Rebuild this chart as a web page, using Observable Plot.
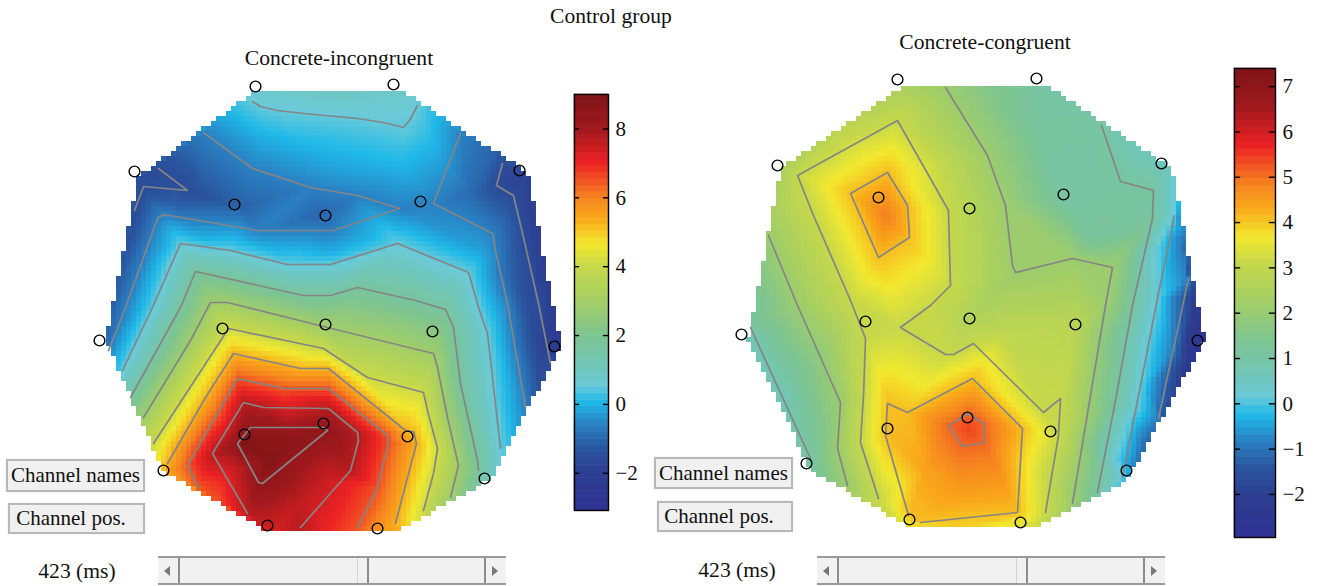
<!DOCTYPE html>
<html><head><meta charset="utf-8">
<script src="https://cdn.jsdelivr.net/npm/d3@7"></script>
<script src="https://cdn.jsdelivr.net/npm/@observablehq/plot@0.6"></script>
<style>
html,body{margin:0;background:#fff;width:1318px;height:586px;overflow:hidden}
#root{position:relative;width:1318px;height:586px;font-family:"Liberation Serif",serif;color:#111}
#root>*{position:absolute}
svg{background:transparent!important;display:block}
.t{font-size:21.6px;white-space:nowrap;transform:translateX(-50%)}
.btn{box-sizing:border-box;background:#f0f0f0;border:2px solid #b8b8b8;box-shadow:0 0 1px #ccc;font-size:21px;display:flex;align-items:center;justify-content:center;white-space:nowrap}
.sb{box-sizing:border-box;background:#f0f1f0;border-top:2px solid #9a9a9a;border-bottom:2px solid #9a9a9a}
.sb i{position:absolute;top:0;bottom:0;display:block;border-left:2px solid #8c8c8c}
.ar{position:absolute;top:8px;width:0;height:0;border-top:5px solid transparent;border-bottom:5px solid transparent}
</style></head><body><div id="root"></div>
<script>
// Shared colour map, positions as a fraction of each colour bar
const rampStops=[0,.092,.148,.204,.261,.301,.333,.425,.509,.585,.638,.702,.754,.834,.918,1];
const rampColors=["#2e3192","#2d3e91","#2a569f","#2a7fc1","#1fb9e8","#6ccbd8","#6dc6c0","#7fc58f","#a6cf63","#c6d84a","#f2e92e","#f9a81a","#f58220","#ed2224","#a0191d","#7f1416"];

// Left map: "Concrete-incongruent"
const leftRange=[-3.08,9];
const leftTicks=[-2,0,2,4,6,8];
const leftChannels=[[255,86],[393,84],[134,171],[519,170],[234,204],[325,215],[420,201],[99,340],[222,328],[325,324],[432,331],[554,346],[244,434],[323,423],[407,436],[163,470],[484,478],[267,525],[377,528]];
const leftOutline=[[253,90],[403,90],[527,172],[560,345],[490,478],[393,532],[270,532],[162,470],[105,340],[138,175]];
const leftContours=[
 [.5,[[252,101],[260,106],[277,110],[303,113],[357,118],[383,122],[403,127],[409,120],[417,105]]],
 [-.6,[[203,132],[237,157],[252,168],[310,187],[357,195],[399,208],[333,230],[257,230],[163,214],[157,218],[143,257],[125,307],[120,320],[108,350]]],
 [-1.6,[[158,168],[187,190],[143,186],[134,210]]],
 [-.6,[[460,133],[433,203],[492,233],[495,250],[507,303],[525,407]]],
 [-1.6,[[502,163],[496,185],[513,195],[523,237],[538,303],[550,363]]],
 [.5,[[122,370],[152,307],[180,243],[230,250],[287,264],[330,264],[397,243],[468,272],[478,307],[487,333],[500,448]]],
 [1.7,[[130,397],[180,307],[195,271],[303,295],[330,295],[357,287],[415,300],[445,309],[453,327],[460,383],[477,460],[478,470]]],
 [2.9,[[143,417],[190,340],[210,302],[227,302],[323,326],[433,353],[437,367],[447,417],[458,465],[450,497]]],
 [4.1,[[153,443],[228,328],[323,348],[367,377],[423,392],[427,410],[437,448],[433,473],[423,510]]],
 [5.3,[[167,463],[205,397],[233,353],[300,368],[328,368],[405,430],[413,431],[416,443],[407,477],[395,523]]],
 [6.5,[[198,487],[187,465],[237,378],[283,388],[328,388],[387,435],[388,442],[377,487],[357,527]]],
 [7.7,[[247,513],[212,453],[243,402],[263,407],[328,408],[357,432],[358,440],[350,470],[300,527]]],
 [8.4,[[250,427],[323,427],[327,430],[262,483],[258,482],[237,443],[250,427]]]
];
const leftSpots=[[253,90,.7],[403,90,.8],[527,172,-1.8],[560,345,-2.2],[490,478,1],[393,532,5.6],[270,532,7.3],[162,470,5.2],[105,340,-1],[138,175,-1.5],
 [330,90,.9],[170,155,-1.3],[465,131,-.5],[495,152,-1.1],[544,260,-2],[555,320,-2.1],[535,400,-1.3],[515,440,0],[440,505,3],[415,520,4.5],[330,532,6.9],[360,532,6.2],[215,500,6.5],[122,260,-1.3],[112,305,-1.1],[120,380,.6],[140,420,2.9],
 [245,440,9],[290,440,8.6],[270,460,8.8],[300,500,7.6],[230,470,7.3],[330,480,7.4],[320,215,-1.05],[240,205,-1.1],[200,195,-1.4],[180,205,-1.1],[310,148,0],[400,160,.1],[260,140,-.1],[350,172,-.2],[435,145,0],[470,195,-.95],[415,215,-.45],[330,250,-.1],[200,235,-.1],[480,250,-.2],[510,280,-1.1],[525,300,-1.5],[530,210,-1.9],[515,180,-1.8],[540,350,-1.8]];

// Right map: "Concrete-congruent"
const rightRange=[-2.95,7.4];
const rightTicks=[-2,-1,0,1,2,3,4,5,6,7];
const rightChannels=[[897,79],[1036,78],[777,165],[1161,163],[878,197],[969,208],[1063,194],[741,334],[865,321],[969,318],[1075,324],[1197,340],[887,428],[967,417],[1050,431],[806,463],[1126,470],[909,519],[1020,522]];
const rightOutline=[[903,84],[1046,84],[1171,168],[1204,340],[1125,482],[1037,526],[907,526],[810,470],[747,340],[780,168]];
const rightContours=[
 [3.1,[[878,498],[860,442],[863,395],[865,338],[850,300],[813,215],[797,175],[897,120],[948,210],[950,285],[930,305],[900,327],[945,354],[953,354],[973,343],[1043,412],[1060,398],[1058,435],[1045,512]]],
 [4.1,[[850,193],[887,172],[907,205],[909,237],[878,257],[850,193]]],
 [4.1,[[920,522],[1017,512],[1022,428],[972,378],[907,412],[887,403],[885,435],[908,515]]],
 [5.1,[[948,425],[968,413],[983,423],[984,442],[962,446],[948,425]]],
 [2.1,[[945,87],[987,155],[1005,205],[1012,265],[1015,272],[1072,258],[1112,267],[1105,305],[1072,503]]],
 [2.1,[[768,235],[797,305],[840,402],[837,448],[847,485]]],
 [1.1,[[1101,125],[1120,181],[1153,190],[1152,218],[1132,305],[1115,400],[1097,492]]],
 [1.1,[[750,327],[810,458]]],
 [.1,[[1174,215],[1157,298],[1140,385],[1122,477]]],
 [-.9,[[1188,278],[1173,348],[1158,418]]]
];
const rightSpots=[[903,84,2.4],[1046,84,1],[1171,168,.4],[1204,340,-2.7],[1125,482,-.4],[1037,526,3.2],[907,526,3.6],[810,470,1.1],[747,340,.7],[780,168,2.4],
 [975,84,1.7],[840,125,2.8],[1108,125,.9],[1140,147,.6],[1180,238,-.9],[1193,298,-2],[1186,348,-2.2],[1190,365,-2.5],[1167,418,-1.7],[1145,445,-1.2],[1135,465,-.9],[970,526,3.9],[860,500,2.6],[778,400,.6],[760,290,1.4],[765,230,2.1],
 [885,215,4.9],[968,428,5.4],[968,318,2.6],[1075,324,2.8],[1005,330,2.9],[1063,195,1],[1090,240,1.2],[1040,130,1.1],[1140,340,.4],[960,490,4.5],[925,470,4.4],[840,330,2.5],[1050,480,2.9]];

const root=document.getElementById("root");
function place(el,left,top){el.style.left=left+"px";el.style.top=top+"px";root.appendChild(el);return el;}

function colorScale([lo,hi]){return {type:"linear",domain:rampStops.map(t=>lo+t*(hi-lo)),range:rampColors};}

// value at a point: linear between the values, blank off the scalp
function sampler(contours,spots,outline){
  const pts=[...spots,...contours.flatMap(([lev,path])=>path.map(p=>[p[0],p[1],lev]))];
  const del=d3.Delaunay.from(pts,d=>d[0],d=>d[1]),tri=del.triangles;
  return (x,y)=>{
    if(!d3.polygonContains(outline,[x,y]))return NaN;
    for(let i=0;i<tri.length;i+=3){
      const a=pts[tri[i]],b=pts[tri[i+1]],c=pts[tri[i+2]];
      const d=(b[1]-c[1])*(a[0]-c[0])+(c[0]-b[0])*(a[1]-c[1]);
      const u=((b[1]-c[1])*(x-c[0])+(c[0]-b[0])*(y-c[1]))/d;
      const v=((c[1]-a[1])*(x-c[0])+(a[0]-c[0])*(y-c[1]))/d;
      if(u>=-1e-9&&v>=-1e-9&&u+v<=1+1e-9)return u*a[2]+v*b[2]+(1-u-v)*c[2];
    }
    return NaN;
  };
}

function topo({x0,x1,y0,y1,range,contours,spots,outline,channels}){
  const lines=contours.flatMap(([lev,path],id)=>path.map(p=>({x:p[0],y:p[1],id})));
  const svg=Plot.plot({
    width:x1-x0,height:y1-y0,margin:0,
    x:{domain:[x0,x1],range:[0,x1-x0],axis:null},
    y:{domain:[y0,y1],range:[0,y1-y0],axis:null},
    color:colorScale(range),
    marks:[
      Plot.raster({x1:x0,x2:x1,y1:y0,y2:y1,fill:sampler(contours,spots,outline),pixelSize:5,imageRendering:"pixelated"}),
      Plot.line(lines,{x:"x",y:"y",z:"id",stroke:"#858585",strokeWidth:1.7}),
      Plot.dot(channels,{x:d=>d[0],y:d=>d[1],r:5.4,stroke:"#000",strokeWidth:1.4,fill:"none"})
    ]
  });
  place(svg,x0,y0);
}

function bar({left,x0,x1,top,bottom,range,ticks}){
  const W=70,H=586,step=(range[1]-range[0])/64;
  const levels=d3.range(64).map(i=>range[0]+i*step);
  const svg=Plot.plot({
    width:W,height:H,marginLeft:x0-left,marginRight:W-(x1-left),marginTop:top,marginBottom:H-bottom,
    x:{domain:[0,1],axis:null},
    y:{domain:range},
    color:colorScale(range),
    marks:[
      Plot.rect(levels,{x1:0,x2:1,y1:d=>d,y2:d=>d+step,fill:d=>d+step/2,inset:-.3}),
      Plot.ruleY(ticks,{x1:0,x2:.15,stroke:"#000",strokeWidth:1.4}),
      Plot.ruleY(ticks,{x1:.85,x2:1,stroke:"#000",strokeWidth:1.4}),
      Plot.axisY(ticks,{anchor:"right",tickSize:0,tickPadding:7,label:null,fontSize:21,fontFamily:"Liberation Serif",tickFormat:d=>String(d).replace("-","\u2212")}),
      Plot.frame({stroke:"#000",strokeWidth:1.4})
    ]
  });
  svg.style.overflow="visible";
  place(svg,left,0);
}

topo({x0:90,x1:570,y0:75,y1:540,range:leftRange,contours:leftContours,spots:leftSpots,outline:leftOutline,channels:leftChannels});
topo({x0:730,x1:1215,y0:70,y1:532,range:rightRange,contours:rightContours,spots:rightSpots,outline:rightOutline,channels:rightChannels});
bar({left:565,x0:574,x1:608,top:94,bottom:510,range:leftRange,ticks:leftTicks});
bar({left:1225,x0:1234,x1:1275,top:68,bottom:537,range:rightRange,ticks:rightTicks});

function label(text,cx,top){const e=document.createElement("div");e.className="t";e.textContent=text;place(e,cx,top);}
label("Control group",611,4);
label("Concrete-incongruent",339,46);
label("Concrete-congruent",985,30);
label("423 (ms)",77,559);
label("423 (ms)",737,558);

function button(text,l,t,w,h,pad){const e=document.createElement("div");e.className="btn";e.textContent=text;e.style.width=w+"px";e.style.height=h+"px";if(pad)e.style.paddingRight=pad+"px";place(e,l,t);}
button("Channel names",6,459,139,33);
button("Channel pos.",8,503,137,31,11);
button("Channel names",654,457,139,32);
button("Channel pos.",657,501,136,31,12);

function scroll(l,split){
  const e=document.createElement("div");e.className="sb";e.style.width="348px";e.style.height="29px";
  [20,split,326].forEach(x=>{const i=document.createElement("i");i.style.left=x+"px";e.appendChild(i);});
  const f=document.createElement("i");f.style.left=(split-10)+"px";f.style.borderLeft="1px solid #d2d2d2";e.appendChild(f);
  const a=document.createElement("span");a.className="ar";a.style.left="6px";a.style.borderRight="6px solid #777";e.appendChild(a);
  const b=document.createElement("span");b.className="ar";b.style.left="334px";b.style.borderLeft="6px solid #777";e.appendChild(b);
  place(e,l,556);
}
scroll(158,209);
scroll(817,209);
</script></body></html>
